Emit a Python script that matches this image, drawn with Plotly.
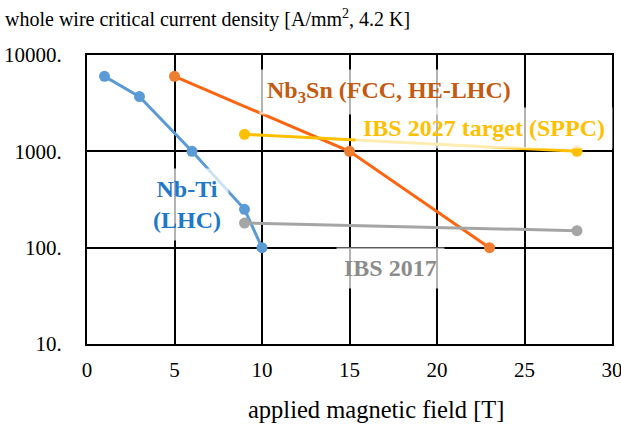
import plotly.graph_objects as go

# Data
nbti_x = [1, 3, 6, 9, 10]
nbti_y = [6000, 3700, 1000, 250, 100]
nb3sn_x = [5, 15, 23]
nb3sn_y = [6000, 1000, 100]
ibs2027_x = [9, 28]
ibs2027_y = [1500, 1000]
ibs2017_x = [9, 28]
ibs2017_y = [180, 150]

y_tickvals = [10, 100, 1000, 10000]
y_ticktext = ["10.", "100.", "1000.", "10000."]
x_tickvals = [0, 5, 10, 15, 20, 25, 30]

FONT = "Liberation Serif, Times New Roman, serif"

fig = go.Figure()

def add_series(x, y, line_color, marker_color, name):
    fig.add_trace(go.Scatter(
        x=x, y=y, mode="lines+markers", name=name,
        line=dict(color=line_color, width=3),
        marker=dict(color=marker_color, size=11),
        showlegend=False, cliponaxis=False,
    ))

add_series(nb3sn_x, nb3sn_y, "#FF6410", "#ED7D31", "Nb3Sn")
add_series(nbti_x, nbti_y, "#5B9BD5", "#5B9BD5", "Nb-Ti")
add_series(ibs2027_x, ibs2027_y, "#FFC000", "#FFC000", "IBS 2027")
add_series(ibs2017_x, ibs2017_y, "#A5A5A5", "#A5A5A5", "IBS 2017")

bg = "rgba(255,255,255,0.7)"

def afont(color):
    return dict(family=FONT, size=24, color=color)

annotations = [
    dict(x=17.26, y=3.616, text="<b>Nb<sub>3</sub>Sn (FCC, HE-LHC)</b>", font=afont("#C55A11")),
    dict(x=22.71, y=3.242, text="<b>IBS 2027 target (SPPC)</b>", font=afont("#FFC000")),
    dict(x=5.71, y=2.453, text="<b>Nb-Ti</b><br><b>(LHC)</b>", font=afont("#1F78C8")),
    dict(x=17.37, y=1.789, text="<b>IBS 2017</b>", font=afont("#8C8C8C")),
]
for a in annotations:
    a.update(xref="x", yref="y", showarrow=False, bgcolor=bg, borderpad=7,
             xanchor="center", yanchor="middle", align="center")

annotations.append(dict(
    xref="paper", yref="paper", x=-0.16, y=1.128, xanchor="left", yanchor="middle",
    text="whole wire critical current density [A/mm<sup>2</sup>, 4.2 K]",
    showarrow=False, font=dict(family=FONT, size=20, color="black")))
annotations.append(dict(
    xref="paper", yref="paper", x=0.55, y=-0.228, xanchor="center", yanchor="middle",
    text="applied magnetic field [T]",
    showarrow=False, font=dict(family=FONT, size=24.5, color="black")))

fig.update_layout(
    width=621, height=426,
    margin=dict(l=87, r=9, t=55, b=82, autoexpand=False),
    paper_bgcolor="white", plot_bgcolor="white",
    font=dict(family=FONT, size=20, color="black"),
    annotations=annotations,
)
fig.update_xaxes(
    range=[0, 30], tickvals=x_tickvals, showgrid=True, gridcolor="black", gridwidth=1.5,
    zeroline=False, showline=True, linecolor="black", linewidth=2, mirror=True,
    automargin=False, ticklabeloverflow="allow",
    ticks="", ticklabelstandoff=6, tickfont=dict(family=FONT, size=21, color="black"),
)
fig.update_yaxes(
    type="log", range=[1, 4], tickvals=y_tickvals, ticktext=y_ticktext,
    showgrid=True, gridcolor="black", gridwidth=1.5,
    zeroline=False, showline=True, linecolor="black", linewidth=2, mirror=True,
    automargin=False, ticklabeloverflow="allow",
    ticks="", ticklabelstandoff=19, tickfont=dict(family=FONT, size=21, color="black"),
)

fig.write_html("out.html")
